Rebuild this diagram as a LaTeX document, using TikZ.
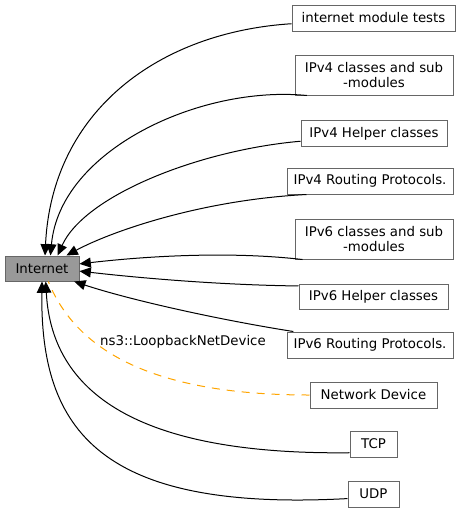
\documentclass[tikz,border=0pt]{standalone}
\usepackage{fontspec}
\setmainfont{DejaVu Sans}
\usepackage{tikz}
\usetikzlibrary{positioning, arrows.meta}

\definecolor{boxline}{HTML}{666666}
\definecolor{curfill}{HTML}{999999}
\definecolor{linkorange}{HTML}{FFA500}

\begin{document}
\begin{tikzpicture}[x=0.75pt, y=-0.75pt,
    font=\fontsize{10}{11.25}\selectfont,
    grp/.style={rectangle, draw=boxline, line width=0.75pt, fill=white, inner sep=0pt, minimum height=19.5pt, align=center},
    edge/.style={line width=0.75pt, -{Triangle[length=8.5pt, width=7.5pt]}},
    link/.style={line width=0.75pt, draw=linkorange, dash pattern=on 6pt off 5.25pt}]
\useasboundingbox (0,0) rectangle (465,512);

% Current group
\node[grp, fill=curfill, minimum width=55.5pt, minimum height=18.75pt] (inet) at (42,268.5) {Internet};

% Sub-groups
\node[grp, minimum width=122.25pt] (imt) at (373.5,18) {internet module tests};
\node[grp, minimum width=118.5pt, minimum height=30pt] (ipvfcls) at (374,75) {IPv4 classes and sub\\-modules};
\node[grp, minimum width=109.5pt] (ipvfhelp) at (374,133.5) {IPv4 Helper classes};
\node[grp, minimum width=124.5pt] (ipvfrt) at (370,181) {IPv4 Routing Protocols.};
\node[grp, minimum width=118.5pt, minimum height=30pt] (ipvscls) at (374,239) {IPv6 classes and sub\\-modules};
\node[grp, minimum width=111.75pt, minimum height=18.75pt] (ipvshelp) at (373.5,296.5) {IPv6 Helper classes};
\node[grp, minimum width=124.5pt] (ipvsrt) at (370,345) {IPv6 Routing Protocols.};
\node[grp, minimum width=95.25pt] (netdev) at (373.5,395) {Network Device};
\node[grp, minimum width=35.25pt] (tcp) at (373.5,444) {TCP};
\node[grp, minimum width=38.25pt] (udp) at (373.5,494) {UDP};

% Edges into the current group
\draw[edge] (imt.184) .. controls (160,32) and (52,110) .. (inet.77);
\draw[edge] (ipvfcls.197) .. controls (200,85) and (60,150) .. (inet.57);
\draw[edge] (ipvfhelp.186) .. controls (200,150) and (85,195) .. (inet.40);
\draw[edge] (ipvfrt.192) .. controls (200,200) and (110,232) .. (inet.28);
\draw[edge] (ipvscls.196) .. controls (220,250) and (130,258) .. (inet.7);
\draw[edge] (ipvshelp.172) .. controls (220,285) and (140,278) .. (inet.-4);
\draw[edge] (ipvsrt.170) .. controls (220,320) and (130,300) .. (inet.-22);
\draw[edge] (tcp.200) .. controls (150,455) and (52,400) .. (inet.-74);
\draw[edge] (udp.190) .. controls (100,512) and (40,430) .. (inet.south);

% Dashed link with label
\draw[link] (netdev.west) .. controls (170,395) and (80,360) .. (inet.-64);
\node (lbl) at (183,342) {ns3::LoopbackNetDevice};

\end{tikzpicture}
\end{document}
